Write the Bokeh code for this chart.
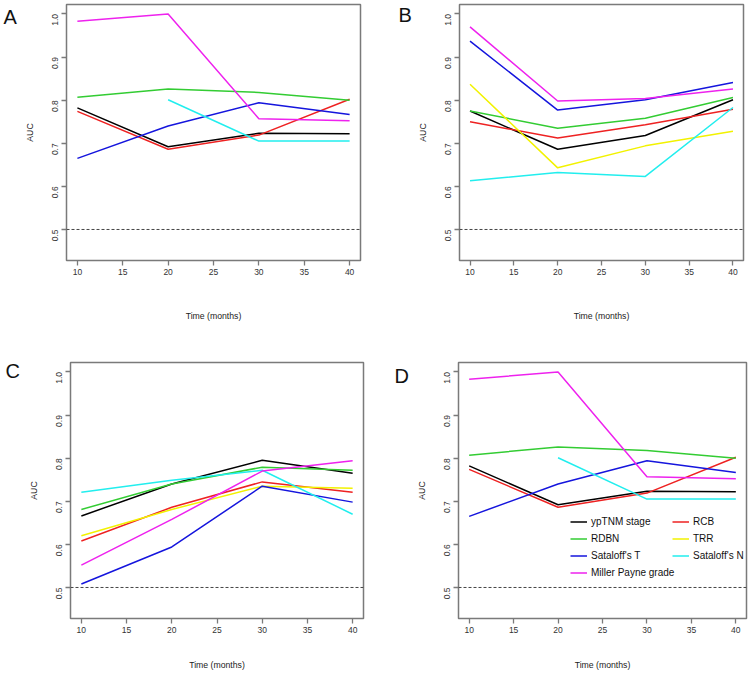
import math
from bokeh.plotting import figure
from bokeh.layouts import column, row
from bokeh.models import (FixedTicker, Legend, LegendItem, Span, Label,
                          ColumnDataSource, Range1d)
from bokeh.embed import file_html
from bokeh.resources import INLINE

# ---------------- data ----------------
months = [10, 20, 30, 40]
series_names = ["ypTNM stage", "RCB", "RDBN", "TRR",
                "Sataloff's T", "Sataloff's N", "Miller Payne grade"]
series_colors = ["#000000", "#EE2222", "#33CC33", "#F2F200",
                 "#1515DD", "#22EEEE", "#EE22EE"]
nan = float("nan")

# Panel A (and D)
a_yptnm = [0.782, 0.692, 0.723, 0.722]
a_rcb = [0.774, 0.686, 0.719, 0.802]
a_rdbn = [0.807, 0.826, 0.818, 0.800]
a_trr = [nan, nan, nan, nan]
a_satT = [0.665, 0.740, 0.794, 0.767]
a_satN = [nan, 0.801, 0.705, 0.705]
a_mp = [0.983, 1.000, 0.757, 0.752]

# Panel B
b_yptnm = [0.775, 0.686, 0.718, 0.801]
b_rcb = [0.750, 0.712, 0.743, 0.779]
b_rdbn = [0.775, 0.735, 0.758, 0.806]
b_trr = [0.837, 0.643, 0.694, 0.728]
b_satT = [0.937, 0.777, 0.801, 0.841]
b_satN = [0.613, 0.632, 0.623, 0.783]
b_mp = [0.970, 0.798, 0.804, 0.826]

# Panel C
c_yptnm = [0.666, 0.740, 0.795, 0.765]
c_rcb = [0.608, 0.686, 0.745, 0.721]
c_rdbn = [0.681, 0.740, 0.779, 0.772]
c_trr = [0.620, 0.681, 0.735, 0.730]
c_satT = [0.508, 0.594, 0.735, 0.698]
c_satN = [0.721, 0.749, 0.772, 0.670]
c_mp = [0.552, 0.658, 0.770, 0.794]

x_ticks = [10, 15, 20, 25, 30, 35, 40]
y_ticks = [0.5, 0.6, 0.7, 0.8, 0.9, 1.0]
y_tick_labels = ["0.5", "0.6", "0.7", "0.8", "0.9", "1.0"]
reference_auc = 0.5
panel_letters = ["A", "B", "C", "D"]

FONT = "Liberation Sans"
FRAME = "#7a7a7a"
TXT = "#333333"
ROW_H = 336


def letter_strip(letter, w, lx, ly):
    """Narrow blank figure holding the panel letter (pixel data ranges)."""
    s = figure(width=w, height=ROW_H, x_range=Range1d(0, w),
               y_range=Range1d(0, ROW_H), output_backend="svg",
               toolbar_location=None, min_border=0,
               x_axis_type=None, y_axis_type=None)
    s.outline_line_color = None
    s.background_fill_color = "white"
    s.border_fill_color = "white"
    s.add_layout(Label(x=lx, y=ly, text=letter, text_font=FONT,
                       text_font_size="20px", text_color="#111111",
                       text_baseline="alphabetic", text_align="left"))
    return s


def make_panel(data, w, bl, br, bt, bb, label_standoff, legend=False):
    p = figure(width=w, height=ROW_H, x_range=(8.8, 41.2),
               y_range=(0.428, 1.022), output_backend="svg",
               toolbar_location=None, min_border_left=bl,
               min_border_right=br, min_border_top=bt, min_border_bottom=bb)
    p.xgrid.visible = False
    p.ygrid.visible = False
    p.outline_line_color = FRAME
    p.outline_line_width = 1.5
    p.background_fill_color = "white"
    p.border_fill_color = "white"

    for ax in (p.xaxis[0], p.yaxis[0]):
        ax.axis_line_color = None
        ax.major_tick_line_color = FRAME
        ax.major_tick_line_width = 1.3
        ax.major_tick_out = 5
        ax.major_tick_in = 0
        ax.minor_tick_line_color = None
        ax.major_label_text_font = FONT
        ax.major_label_text_font_size = "8.5px"
        ax.major_label_text_color = TXT
        ax.axis_label_text_font = FONT
        ax.axis_label_text_font_size = "8.7px"
        ax.axis_label_text_font_style = "normal"
        ax.axis_label_text_color = "#222222"

    p.xaxis.ticker = FixedTicker(ticks=x_ticks)
    p.yaxis.ticker = FixedTicker(ticks=y_ticks)
    p.yaxis.major_label_overrides = dict(zip(y_ticks, y_tick_labels))
    p.yaxis.major_label_orientation = math.pi / 2
    p.xaxis.major_label_standoff = 3
    p.yaxis.major_label_standoff = 6
    p.xaxis.axis_label = "Time (months)"
    p.yaxis.axis_label = "AUC"
    p.xaxis.axis_label_standoff = label_standoff
    p.yaxis.axis_label_standoff = 12

    p.add_layout(Span(location=reference_auc, dimension="width",
                      line_color="#444444", line_dash="3 2", line_width=1))

    renderers = []
    for name, color, ys in zip(series_names, series_colors, data):
        src = ColumnDataSource(dict(x=months, y=ys))
        r = p.line("x", "y", source=src, line_color=color, line_width=1.5)
        renderers.append((name, r))

    if legend:
        col1 = [renderers[i] for i in (0, 2, 4, 6)]
        col2 = [renderers[i] for i in (1, 3, 5)]
        for items, loc in ((col1, (112, 38)), (col2, (214, 55))):
            lg = Legend(items=[LegendItem(label=n, renderers=[r])
                               for n, r in items],
                        location=loc, border_line_color=None,
                        background_fill_alpha=0, padding=0, margin=0,
                        spacing=2, label_height=15, glyph_height=15,
                        glyph_width=17, label_standoff=4,
                        label_text_font=FONT, label_text_font_size="10px",
                        label_text_color="#111111")
            p.add_layout(lg)
    return p


dA = [a_yptnm, a_rcb, a_rdbn, a_trr, a_satT, a_satN, a_mp]
dB = [b_yptnm, b_rcb, b_rdbn, b_trr, b_satT, b_satN, b_mp]
dC = [c_yptnm, c_rcb, c_rdbn, c_trr, c_satT, c_satN, c_mp]

lA = letter_strip(panel_letters[0], 20, 3, 320)
pA = make_panel(dA, 354, 46, 14, 4, 75, 33)
lB = letter_strip(panel_letters[1], 40, 24, 322)
pB = make_panel(dB, 334, 43, 5, 3, 76, 33)
lC = letter_strip(panel_letters[2], 22, 5, 325)
pC = make_panel(dC, 352, 48, 11, 24, 54, 24)
lD = letter_strip(panel_letters[3], 38, 20, 318)
pD = make_panel(dA, 336, 46, 2, 26, 54, 24, legend=True)

layout = column(row(lA, pA, lB, pB, spacing=0),
                row(lC, pC, lD, pD, spacing=0), spacing=0)

open("out.html", "w").write(file_html(layout, INLINE))
